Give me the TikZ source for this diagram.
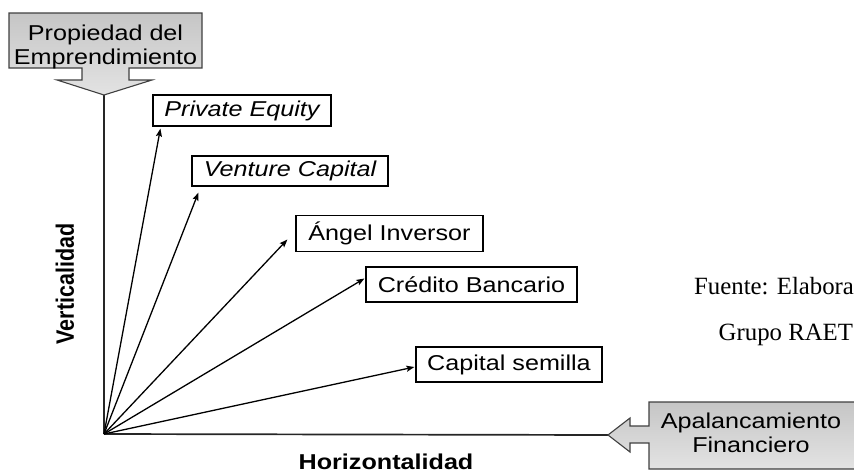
\documentclass[tikz,border=0pt]{standalone}
\usepackage{fontspec}
\setmainfont{Liberation Sans}
\newfontfamily\lbl[FakeStretch=1.17]{Liberation Sans}
\newfontfamily\lblserif{Liberation Serif}
\usetikzlibrary{arrows.meta}

\tikzset{
  boxfont/.style={font=\lbl\fontsize{21.5pt}{24.5pt}\selectfont},
  labelbox/.style={boxfont, draw=black, line width=1.2pt, fill=white, inner sep=0pt},
  callout/.style={draw=black!75, line width=1.1pt, top color=gray!45, middle color=gray!6, bottom color=gray!22},
  calltext/.style={boxfont, align=center, inner sep=0pt},
  ray/.style={line width=1.3pt, -{Stealth[length=8pt,width=6pt,inset=1.5pt]}},
  axisline/.style={line width=1.7pt, draw=black!85},
  axislabel/.style={font=\bfseries\fontsize{21.5pt}{24pt}\selectfont, inner sep=0pt},
  srcnote/.style={font=\lblserif\fontsize{24.8pt}{28pt}\selectfont, inner sep=0pt, anchor=base west}
}

\begin{document}
\begin{tikzpicture}[x=1pt, y=-1pt]
\useasboundingbox (0,0) rectangle (854,474);

% origin and the two axis ends
\coordinate (O) at (104,434);
\coordinate (ptip) at (104,95);
\coordinate (atip) at (608,435);

% axes
\draw[axisline] (O) -- (ptip);
\draw[axisline] (O) -- (atip);

% vertical callout: ownership of the venture
\path[callout] (9,13) -- (202,13) -- (202,68) -- (129,68) -- (129,80) -- (152,80)
  -- (ptip) -- (57,80) -- (82,80) -- (82,68) -- (9,68) -- cycle;
\node[calltext] (prop) at (105.5,47) {Propiedad del\\Emprendimiento};

% horizontal callout: financial leverage
\path[callout] (860,402) -- (649,402) -- (649,426) -- (630,426) -- (630,418)
  -- (atip) -- (630,452) -- (630,443) -- (649,443) -- (649,469) -- (860,469) -- cycle;
\node[calltext] (apal) at (751,433) {Apalancamiento\\Financiero};

% financing sources
\node[labelbox, minimum width=178pt, minimum height=31pt] (pe) at (242,110.5) {\itshape Private Equity};
\node[labelbox, minimum width=196pt, minimum height=30pt] (vc) at (290,171) {\itshape Venture Capital};
\node[labelbox, minimum width=187pt, minimum height=36pt] (ai) at (389.5,233.5) {Ángel Inversor};
\node[labelbox, minimum width=211pt, minimum height=35pt] (cb) at (471.5,284.5) {Crédito Bancario};
\node[labelbox, minimum width=186pt, minimum height=35pt] (cs) at (509,364.5) {Capital semilla};

% rays from the origin
\draw[ray] (O) -- ([shift={(8,2)}]pe.south west);
\draw[ray] (O) -- ([shift={(7,6)}]vc.south west);
\draw[ray] (O) -- ([shift={(-8,6)}]ai.west);
\draw[ray] (O) -- ([shift={(-1,-6)}]cb.west);
\draw[ray] (O) -- ([shift={(-1,2.5)}]cs.west);

% axis labels
\node[axislabel, rotate=90] (vert) at (65,284) {\scalebox{1}[1.17]{Verticalidad}};
\node[axislabel, font=\lbl\bfseries\fontsize{21.5pt}{24pt}\selectfont, anchor=base] (horiz) at (386,469.5) {Horizontalidad};

% source note
\node[srcnote] (src1) at (694,294.5) {Fuente: Elabora};
\node[srcnote] (src2) at (718.5,340) {Grupo RAET};
\end{tikzpicture}
\end{document}
